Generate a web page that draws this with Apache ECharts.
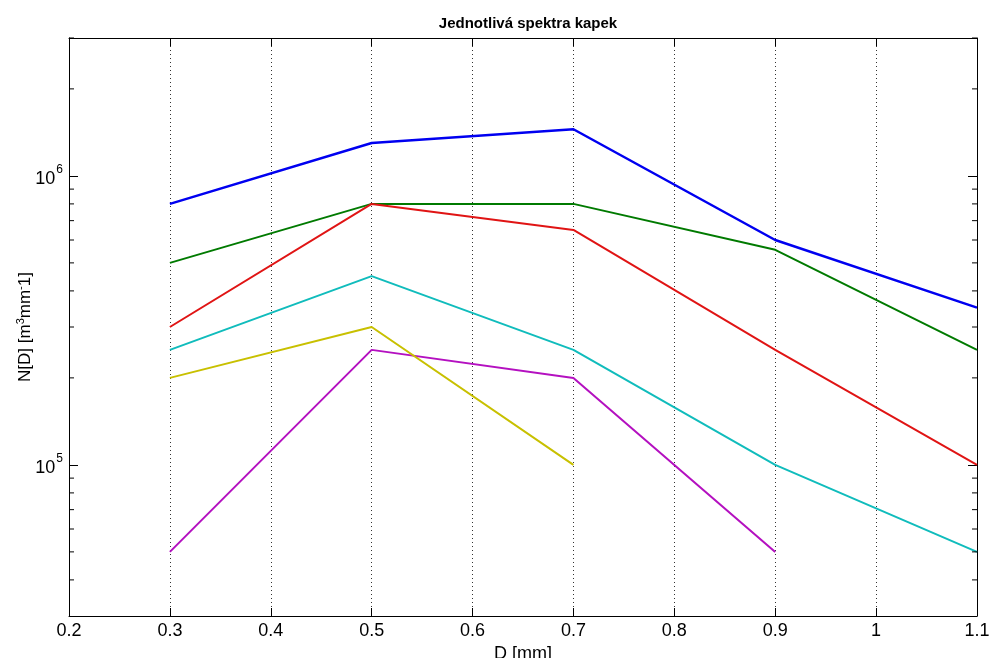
<!DOCTYPE html>
<html>
<head>
<meta charset="utf-8">
<script src="https://cdn.jsdelivr.net/npm/echarts@6/dist/echarts.min.js"></script>
<style>html,body{margin:0;padding:0;background:#fff;}#c{width:990px;height:658px;}</style>
</head>
<body>
<div id="c"></div>
<script>
// Diameters D [mm]
var diameters = [0.3, 0.5, 0.7, 0.9, 1.1];
// Individual drop spectra N[D]
var spectrumBlue    = [8.0e5, 1.30e6, 1.45e6, 6.0e5, 3.5e5];
var spectrumGreen   = [5.0e5, 8.0e5, 8.0e5, 5.55e5, 2.5e5];
var spectrumRed     = [3.0e5, 8.0e5, 6.5e5, 2.5e5, 1.0e5];
var spectrumCyan    = [2.5e5, 4.5e5, 2.5e5, 1.0e5, 5.0e4];
var spectrumMagenta = [5.0e4, 2.5e5, 2.0e5, 5.0e4, null];
var spectrumYellow  = [2.0e5, 3.0e5, 1.0e5, null, null];
// Log minor tick values
var minorTicks = [4e4, 5e4, 6e4, 7e4, 8e4, 9e4, 2e5, 3e5, 4e5, 5e5, 6e5, 7e5, 8e5, 9e5, 2e6, 3e6];

var FONT = '"Liberation Sans", Arial, sans-serif';

function pairs(vals) {
  var out = [];
  for (var i = 0; i < diameters.length; i++) {
    if (vals[i] != null) out.push([diameters[i], vals[i]]);
  }
  return out;
}

function lineSeries(name, vals, color, w) {
  return {
    name: name, type: 'line', data: pairs(vals), symbol: 'none',
    lineStyle: { color: color, width: w }, itemStyle: { color: color },
    xAxisIndex: 0, yAxisIndex: 0, animation: false, z: 3
  };
}

function powLabel(v) {
  var l = Math.log10(v), e = Math.round(l);
  if (Math.abs(l - e) < 1e-6) return '{b|10}{s|' + e + '}';
  return '';
}

var chart = echarts.init(document.getElementById('c'), null, { renderer: 'canvas' });
chart.setOption({
  animation: false,
  backgroundColor: '#ffffff',
  title: {
    text: 'Jednotlivá spektra kapek',
    left: 523, top: 11, textAlign: 'center',
    textStyle: { fontFamily: FONT, fontSize: 15, fontWeight: 'bold', color: '#000' }
  },
  grid: { left: 69, right: 13, top: 38, bottom: 42, containLabel: false, outerBoundsMode: 'none', show: false },
  xAxis: [{
    type: 'value', min: 0.2, max: 1.1, interval: 0.1, position: 'bottom',
    name: 'D [mm]', nameLocation: 'middle', nameGap: 29, nameMoveOverlap: false,
    nameTextStyle: { fontFamily: FONT, fontSize: 18, color: '#000', verticalAlign: 'top' },
    axisLine: { show: true, onZero: false, lineStyle: { color: '#000', width: 1 } },
    axisTick: { show: true, inside: true, length: 8, lineStyle: { color: '#000' } },
    axisLabel: { fontFamily: FONT, fontSize: 18, color: '#000', margin: 6 },
    splitLine: { show: true, lineStyle: { color: '#333', width: 1, type: [1, 3] } }
  }, {
    type: 'value', min: 0.2, max: 1.1, interval: 0.1, position: 'top',
    axisLine: { show: true, onZero: false, lineStyle: { color: '#000', width: 1 } },
    axisTick: { show: true, inside: true, length: 8, lineStyle: { color: '#000' } },
    axisLabel: { show: false }, splitLine: { show: false }
  }],
  yAxis: [{
    type: 'log', logBase: 10, min: 3e4, max: 3e6, position: 'left',
    name: 'N[D] [m{sup|3}mm{sup|-}1]', nameLocation: 'middle', nameGap: 34, nameRotate: 90,
    nameMoveOverlap: false,
    nameTextStyle: {
      fontFamily: FONT, fontSize: 17, color: '#000',
      rich: { sup: { fontFamily: FONT, fontSize: 11, color: '#000', verticalAlign: 'top', padding: [0, 0, 9, 0] } }
    },
    axisLine: { show: true, onZero: false, lineStyle: { color: '#000', width: 1 } },
    axisTick: { show: true, inside: true, length: 9, lineStyle: { color: '#000' } },
    axisLabel: {
      margin: 6, formatter: powLabel, showMinLabel: true, showMaxLabel: true, hideOverlap: false,
      rich: {
        b: { fontFamily: FONT, fontSize: 18, color: '#000', padding: [6, 0, 0, 0] },
        s: { fontFamily: FONT, fontSize: 12, color: '#000', verticalAlign: 'top', padding: [0, 0, 8, 1] }
      }
    },
    splitLine: { show: false }, minorTick: { show: false }
  }, {
    type: 'log', logBase: 10, min: 3e4, max: 3e6, position: 'right',
    axisLine: { show: true, onZero: false, lineStyle: { color: '#000', width: 1 } },
    axisTick: { show: true, inside: true, length: 9, lineStyle: { color: '#000' } },
    axisLabel: { show: false }, splitLine: { show: false }
  }],
  series: [
    lineSeries('s1', spectrumBlue, '#0000f0', 2.5),
    lineSeries('s2', spectrumGreen, '#007a00', 2),
    lineSeries('s3', spectrumRed, '#e01414', 2),
    lineSeries('s4', spectrumCyan, '#10bcbc', 2),
    lineSeries('s5', spectrumMagenta, '#b410c0', 2),
    lineSeries('s6', spectrumYellow, '#c8c000', 2),
    {
      type: 'custom', xAxisIndex: 0, yAxisIndex: 0, silent: true, clip: false, z: 4,
      data: minorTicks.map(function (v) { return [0.2, v]; }),
      encode: { x: 0, y: 1 },
      renderItem: function (params, api) {
        var v = api.value(1);
        var pl = api.coord([0.2, v]);
        var pr = api.coord([1.1, v]);
        var st = { stroke: '#000', lineWidth: 1 };
        return {
          type: 'group',
          children: [
            { type: 'line', shape: { x1: pl[0], y1: pl[1], x2: pl[0] + 5, y2: pl[1] }, style: st },
            { type: 'line', shape: { x1: pr[0], y1: pr[1], x2: pr[0] - 5, y2: pr[1] }, style: st }
          ]
        };
      }
    }
  ]
});
</script>
</body>
</html>
